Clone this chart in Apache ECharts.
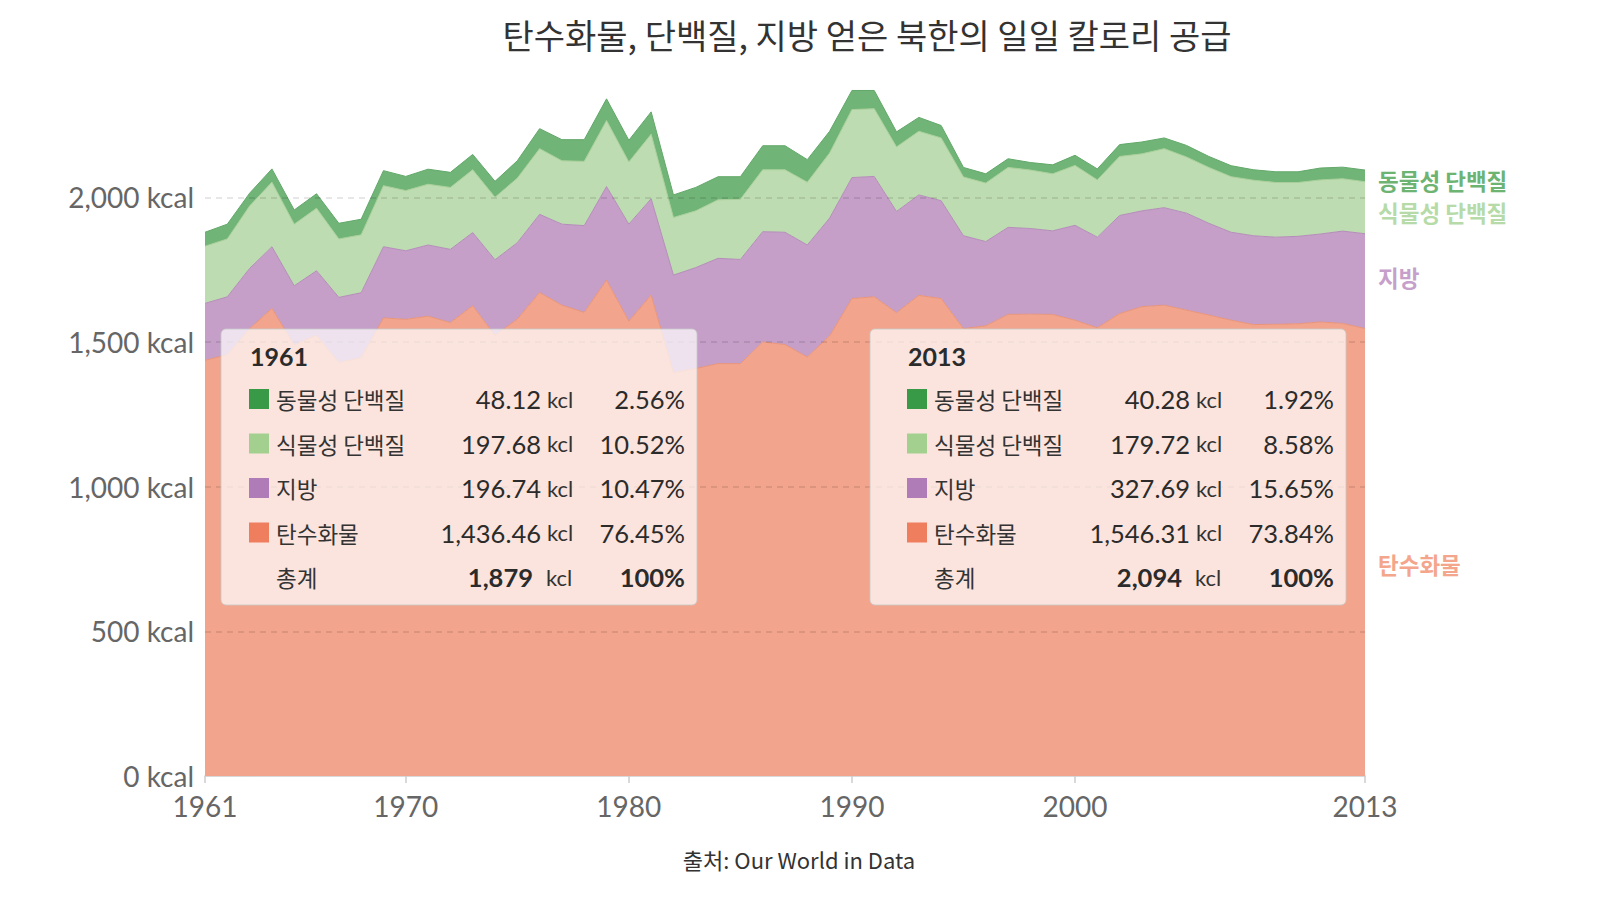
<!DOCTYPE html>
<html>
<head>
<meta charset="utf-8">
<script src="https://cdn.jsdelivr.net/npm/echarts@6/dist/echarts.min.js"></script>
<style>
  html, body { margin: 0; padding: 0; background: #fff; }
  #chart { width: 1600px; height: 900px; }
</style>
</head>
<body>
<div id="chart"></div>
<script>
// 연도 (1961 ~ 2013)
const years = [];
for (let y = 1961; y <= 2013; y++) years.push(String(y));

// x축에 표시할 연도
const labelYears = ['1961', '1970', '1980', '1990', '2000', '2013'];

// 탄수화물 (kcal)
const carbs = [1436.46, 1456, 1546, 1616, 1490, 1523, 1429, 1445, 1583, 1578,
  1589, 1567, 1625, 1523, 1579, 1671, 1627, 1602, 1714, 1572,
  1662, 1394, 1408, 1425, 1425, 1500, 1491, 1448, 1521, 1650,
  1656, 1601, 1661, 1650, 1546, 1556, 1595, 1596, 1595, 1575,
  1549, 1598, 1622, 1627, 1610, 1593, 1575, 1560, 1561, 1563,
  1569, 1564, 1546.31];

// 지방 (kcal)
const fat = [196.74, 200, 208, 213, 204, 223, 225, 225, 246, 237,
  246, 253, 253, 261, 264, 270, 280, 300, 323, 335,
  333, 337, 349, 364, 360, 381, 388, 387, 407, 418,
  416, 350, 347, 338, 321, 291, 301, 296, 289, 328,
  313, 339, 331, 337, 335, 317, 304, 307, 301, 302,
  304, 319, 327.69];

// 식물성 단백질 (kcal)
const plant = [197.68, 200, 216, 223, 213, 216, 202, 200, 211, 208,
  210, 214, 217, 216, 223, 227, 219, 222, 228, 215,
  223, 199, 196, 202, 208, 214, 216, 217, 225, 235,
  234, 223, 220, 217, 203, 202, 207, 202, 197, 207,
  198, 204, 197, 204, 194, 193, 192, 192, 189, 186,
  187, 181, 179.72];

// 동물성 단백질 (kcal)
const animal = [48.12, 51, 44, 46, 49, 50, 54, 54, 52, 49,
  52, 52, 53, 55, 60, 69, 73, 75, 75, 75,
  77, 78, 81, 80, 78, 83, 83, 78, 75, 66,
  63, 52, 48, 43, 33, 32, 30, 26, 31, 35,
  38, 41, 41, 37, 40, 38, 38, 36, 37, 37,
  41, 40, 40.28];

// 아래에서 위로 쌓는 순서
const seriesNames = ['탄수화물', '지방', '식물성 단백질', '동물성 단백질'];
const seriesData = [carbs, fat, plant, animal];
const areaColors = ['#f2a58c', '#c59fc8', '#bedcb1', '#71b478'];
const lineColors = ['#e99479', '#b48cb9', '#a8cf99', '#62a869'];
const swatchColors = ['#ef7e5e', '#b07cb8', '#a3d08f', '#389a46'];
const sideLabelColors = ['#f4a68c', '#c69fca', '#b6dba8', '#6db372'];

// 상자로 보여줄 연도
const boxYears = ['1961', '2013'];

const FONT = 'Lato, "Noto Sans CJK KR", sans-serif';
const KFONT = '"Noto Sans CJK KR", Lato, sans-serif';
const gridColor = 'rgba(0,0,0,0.13)';

function fmt(v, digits) {
    return v.toLocaleString('en-US', {
        minimumFractionDigits: digits,
        maximumFractionDigits: digits
    });
}

function txt(x, y, text, font, opts) {
    return {
        type: 'text',
        x: x,
        y: y,
        z: 101,
        silent: true,
        style: Object.assign({
            text: text,
            font: font,
            fill: '#2b2b2b',
            verticalAlign: 'middle'
        }, opts || {})
    };
}

/**
 * 연도별 요약 상자 (절대 좌표의 요소 목록)
 */
function makeBox(left, top, year, pad) {
    const idx = years.indexOf(year);
    const order = [3, 2, 1, 0];
    const total = order.reduce((s, k) => s + seriesData[k][idx], 0);
    const els = [{
        type: 'rect',
        z: 100,
        silent: true,
        shape: { x: left, y: top, width: 476, height: 276, r: 5 },
        style: {
            fill: 'rgba(255,255,255,0.7)',
            stroke: 'rgba(200,200,200,0.8)',
            lineWidth: 1
        }
    }];
    els.push(txt(left + pad + 1, top + 27, year, 'bold 25px ' + FONT));

    order.forEach((k, r) => {
        const v = seriesData[k][idx];
        const cy = top + 70 + r * 44.5;
        els.push({
            type: 'rect',
            z: 101,
            silent: true,
            shape: { x: left + pad, y: cy - 10, width: 20, height: 20 },
            style: { fill: swatchColors[k] }
        });
        els.push(txt(left + pad + 27, cy, seriesNames[k], '22.5px ' + KFONT, { fill: '#333' }));
        els.push(txt(left + 320, cy, fmt(v, 2), '25.5px ' + FONT, { align: 'right' }));
        els.push(txt(left + 326, cy, 'kcl', '22px ' + FONT, { fill: '#333' }));
        els.push(txt(left + 464, cy, fmt(v / total * 100, 2) + '%', '25.5px ' + FONT, { align: 'right' }));
    });

    const ty = top + 70 + 4 * 44.5;
    els.push(txt(left + pad + 27, ty, '총계', '22.5px ' + KFONT, { fill: '#333' }));
    els.push(txt(left + 312, ty, fmt(total, 0), 'bold 25.5px ' + FONT, { align: 'right' }));
    els.push(txt(left + 325, ty, 'kcl', '22px ' + FONT, { fill: '#333' }));
    els.push(txt(left + 464, ty, '100%', 'bold 25.5px ' + FONT, { align: 'right' }));
    return els;
}

const chart = echarts.init(document.getElementById('chart'), null, { renderer: 'svg' });

const sideLabelY = [564, 277, 212, 180];

const graphics = []
    .concat(makeBox(221, 329, boxYears[0], 28))
    .concat(makeBox(870, 329, boxYears[1], 37))
    .concat([txt(799, 859, '출처: Our World in Data', '22px ' + KFONT, { fill: '#333', align: 'center' })])
    .concat(seriesNames.map((name, k) =>
        txt(1378, sideLabelY[k], name, 'bold 22.5px ' + KFONT, { fill: sideLabelColors[k] })));

chart.setOption({
    animation: false,
    title: {
        text: '탄수화물, 단백질, 지방 얻은 북한의 일일 칼로리 공급',
        left: 867,
        top: 14,
        textAlign: 'center',
        padding: 0,
        textStyle: { fontFamily: KFONT, fontSize: 34, fontWeight: 'normal', color: '#333', lineHeight: 40 }
    },
    grid: { left: 205, right: 235, top: 81.5, bottom: 124 },
    xAxis: {
        type: 'category',
        boundaryGap: false,
        data: years,
        axisLine: { lineStyle: { color: '#ccc', width: 1.5 } },
        axisTick: {
            interval: (i, v) => labelYears.includes(v),
            length: 7,
            lineStyle: { color: '#ccc', width: 1.5 }
        },
        axisLabel: {
            interval: (i, v) => labelYears.includes(v),
            color: '#666',
            fontFamily: FONT,
            fontSize: 28,
            margin: 16
        },
        splitLine: { show: false }
    },
    yAxis: {
        type: 'value',
        min: 0,
        max: 2400,
        interval: 500,
        z: 5,
        axisLine: { show: false },
        axisTick: { show: false },
        axisLabel: {
            showMaxLabel: false,
            formatter: v => fmt(v, 0) + ' kcal',
            color: '#666',
            fontFamily: FONT,
            fontSize: 28,
            margin: 11
        },
        splitLine: {
            lineStyle: {
                color: ['transparent', gridColor, gridColor, gridColor, gridColor, 'transparent'],
                type: [6, 5],
                width: 1.5
            }
        }
    },
    series: seriesNames.map((name, k) => ({
        name: name,
        type: 'line',
        stack: 'kcal',
        data: seriesData[k],
        symbol: 'none',
        silent: true,
        z: 2,
        lineStyle: { width: 1, color: lineColors[k] },
        areaStyle: { color: areaColors[k], opacity: 1 },
        emphasis: { disabled: true }
    })),
    graphic: { elements: graphics }
});
</script>
</body>
</html>
